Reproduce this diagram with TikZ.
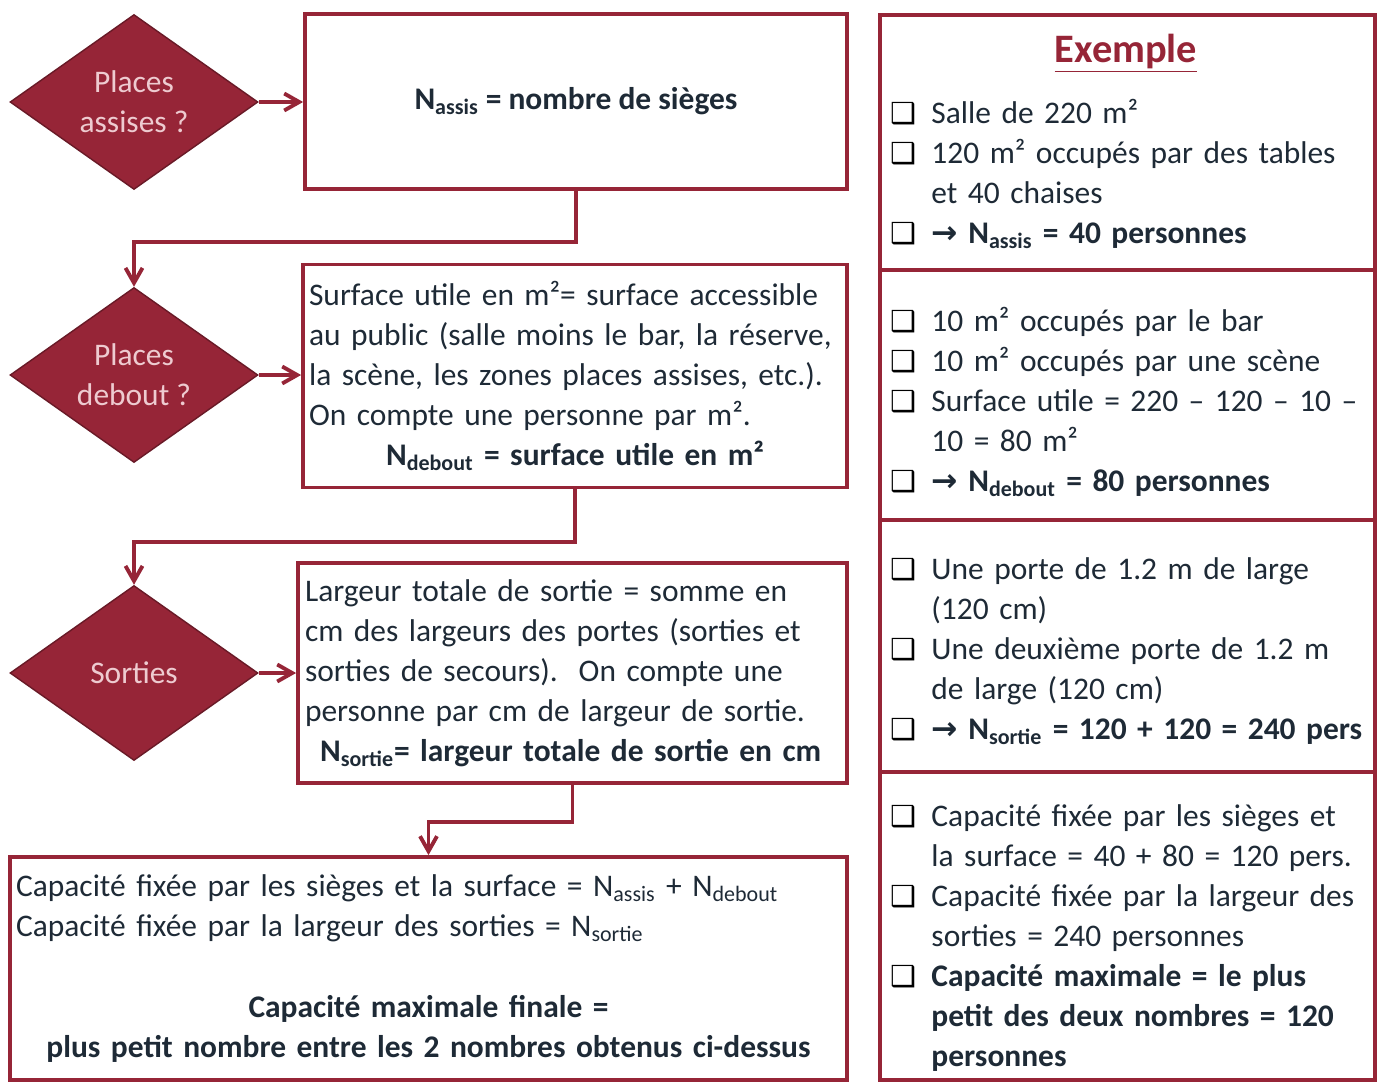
\documentclass[tikz,border=0pt]{standalone}
\usepackage{fontspec}
\setmainfont{Carlito}
\newfontfamily\dejavu{DejaVu Sans}
\usepackage{xcolor}
\usetikzlibrary{shapes.geometric,arrows.meta,positioning}

% couleurs du schema
\definecolor{bordeaux}{HTML}{962537}
\definecolor{rosepale}{HTML}{EECBD0}
\definecolor{encre}{HTML}{1E2A36}

\newcommand{\taille}{\fontsize{17.9}{22.8}\selectfont}
\newcommand{\caseok}{\makebox[0.82cm][l]{{\dejavu\fontsize{16.5}{16.5}\selectfont\color{black}❑}}}
\newcommand{\suite}{\hspace*{0.82cm}}
\newcommand{\fleche}{{\dejavu\bfseries →}}
\newcommand{\Nb}[1]{N\textsubscript{#1}}

\begin{document}
\begin{tikzpicture}[x=0.02cm,y=-0.02cm,
  every node/.style={font=\taille, text=encre},
  question/.style={diamond, fill=bordeaux, draw=bordeaux!70!black, line width=0.8pt,
    aspect=1.42, minimum width=4.96cm, minimum height=3.5cm, inner sep=0pt,
    text=rosepale, align=center},
  cadre/.style={rectangle, draw=bordeaux, line width=2.2pt, inner sep=0pt},
  liste/.style={text width=9.9cm, align=left, inner sep=0pt, anchor=west},
  lien/.style={draw=bordeaux, line width=2.2pt, -{Straight Barb[length=0.3cm,width=0.34cm]}}]

\useasboundingbox (0,0) rectangle (1379,1082);

% Define the decision diamonds
\node[question] (q1) at (134,102) {Places\\assises ?};
\node[question] (q2) at (134,375) {Places\\debout ?};
\node[question] (q3) at (134,673) {Sorties};

% Draw the boxes of the flow
\node[cadre, minimum width=10.84cm, minimum height=3.5cm, font=\taille\bfseries] (b1) at (576,101.5)
  {\Nb{assis} = nombre de sièges};

\node[cadre, minimum width=10.88cm, minimum height=4.46cm, text width=10.64cm, align=left] (b2) at (575,376)
  {Surface utile en m²= surface accessible\\
   au public (salle moins le bar, la réserve,\\
   la scène, les zones places assises, etc.).\\
   On compte une personne par m².\\
   \hspace*{1.54cm}\textbf{\Nb{debout} = surface utile en m²}};

\node[cadre, minimum width=10.98cm, minimum height=4.4cm, text width=10.7cm, align=left] (b3) at (572.5,673)
  {Largeur totale de sortie = somme en\\
   cm des largeurs des portes (sorties et\\
   sorties de secours).\ \ On compte une\\
   personne par cm de largeur de sortie.\\
   \hspace*{0.3cm}\textbf{\Nb{sortie}= largeur totale de sortie en cm}};

\node[cadre, minimum width=16.74cm, minimum height=4.46cm, text width=16.5cm, align=center] (b4) at (428.5,968.5)
  {\makebox[16.5cm][l]{Capacité fixée par les sièges et la surface = \Nb{assis} + \Nb{debout}}\\
   \makebox[16.5cm][l]{Capacité fixée par la largeur des sorties =\ \Nb{sortie}}\\[22.8pt]
   \textbf{Capacité maximale finale =}\\
   \textbf{plus petit nombre entre les 2 nombres obtenus ci-dessus}};

% Draw the example column
\node[cadre, minimum width=9.9cm, minimum height=5.1cm] (s1) at (1127.5,142.5) {};
\node[cadre, minimum width=9.9cm, minimum height=5cm] (s2) at (1127.5,395) {};
\node[cadre, minimum width=9.9cm, minimum height=5.04cm] (s3) at (1127.5,646) {};
\node[cadre, minimum width=9.9cm, minimum height=6.16cm] (s4) at (1127.5,926) {};

% Add the example texts
\node[liste] (t1) at ([xshift=0.24cm,yshift=0.02cm]s1.west)
  {\makebox[9.42cm]{\fontsize{23}{28}\selectfont\bfseries\color{bordeaux}\underline{Exemple}}\\[0.42cm]
   \caseok Salle de 220 m²\\
   \caseok 120 m² occupés par des tables\\
   \suite et 40 chaises\\
   \caseok\textbf{\fleche{} \Nb{assis} = 40 personnes}};
\node[liste] (t2) at ([xshift=0.24cm,yshift=-0.14cm]s2.west)
  {\caseok 10 m² occupés par le bar\\
   \caseok 10 m² occupés par une scène\\
   \caseok Surface utile = 220 – 120 – 10 –\\
   \suite 10 = 80 m²\\
   \caseok\textbf{\fleche{} \Nb{debout} = 80 personnes}};
\node[liste] (t3) at ([xshift=0.24cm,yshift=-0.1cm]s3.west)
  {\caseok Une porte de 1.2 m de large\\
   \suite (120 cm)\\
   \caseok Une deuxième porte de 1.2 m\\
   \suite de large (120 cm)\\
   \caseok\textbf{\fleche{} \Nb{sortie} = 120 + 120 = 240 pers}};
\node[liste] (t4) at ([xshift=0.24cm,yshift=-0.24cm]s4.west)
  {\caseok Capacité fixée par les sièges et\\
   \suite la surface = 40 + 80 = 120 pers.\\
   \caseok Capacité fixée par la largeur des\\
   \suite sorties = 240 personnes\\
   \caseok\textbf{Capacité maximale = le plus}\\
   \suite\textbf{petit des deux nombres = 120}\\
   \suite\textbf{personnes}};

% Draw the connectors
\draw[lien] (q1.east) -- (q1.east -| b1.west);
\draw[lien] (q2.east) -- (q2.east -| b2.west);
\draw[lien] (q3.east) -- (q3.east -| b3.west);
\draw[lien] (b1.south) -- ++(0,51) -| (q2.north);
\draw[lien] (b2.south) -- ++(0,53) -| (q3.north);
\draw[lien] (b3.south) -- ++(0,37) -| (b4.north);

\end{tikzpicture}
\end{document}
